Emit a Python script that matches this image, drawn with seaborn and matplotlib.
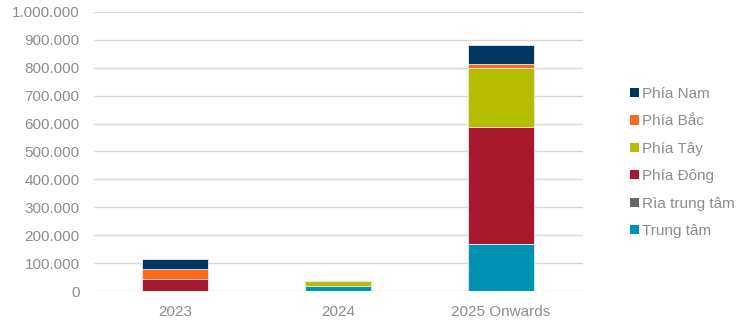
import matplotlib
matplotlib.use("Agg")
import matplotlib.pyplot as plt
from matplotlib.patches import Patch
from matplotlib.ticker import FuncFormatter
import seaborn as sns
import pandas as pd
import numpy as np

categories = ["2023", "2024", "2025 Onwards"]
# stack order bottom -> top
series_names = ["Trung tâm", "Rìa trung tâm", "Phía Đông", "Phía Tây", "Phía Bắc", "Phía Nam"]
trung_tam = [0, 19000, 169000]
ria_trung_tam = [0, 0, 0]
phia_dong = [42000, 0, 420000]
phia_tay = [0, 18000, 209000]
phia_bac = [38000, 0, 16000]
phia_nam = [36000, 0, 68000]
colors = ["#0092B3", "#666666", "#A6192E", "#B5BD00", "#FF6A1A", "#003660"]

values = [trung_tam, ria_trung_tam, phia_dong, phia_tay, phia_bac, phia_nam]

sns.set_theme(style="white")
plt.rcParams['font.family'] = ['Liberation Sans', 'DejaVu Sans']

fig = plt.figure(figsize=(7.5, 3.23), dpi=100)
ax = fig.add_axes([0.1247, 0.099, 0.652, 0.864])

cum = np.cumsum(np.array(values, dtype=float), axis=0)
# draw tallest (top of stack) first so lower segments overlay
for i in range(len(series_names) - 1, -1, -1):
    df = pd.DataFrame({"cat": categories, "val": cum[i]})
    sns.barplot(data=df, x="cat", y="val", color=colors[i], width=0.4,
                saturation=1, edgecolor="#e6eef3", linewidth=0.6, ax=ax, zorder=3)

ax.set_ylim(0, 1000000)
ax.set_xlim(-0.5, 2.5)
ax.set_yticks(np.arange(0, 1000001, 100000))
ax.yaxis.set_major_formatter(FuncFormatter(lambda v, p: f"{int(v):,}".replace(",", ".")))
ax.grid(axis="y", color="#d9d9d9", linewidth=1, zorder=0)
ax.set_axisbelow(True)
for s in ax.spines.values():
    s.set_visible(False)
ax.set_xlabel("")
ax.set_ylabel("")
ax.tick_params(axis="both", length=0, labelsize=11, colors="#8c8c8c")
ax.tick_params(axis="y", pad=10)
ax.tick_params(axis="x", pad=10)

handles = [Patch(facecolor=colors[i], edgecolor="none", label=series_names[i])
           for i in range(len(series_names) - 1, -1, -1)]
leg = fig.legend(handles=handles, loc="center left", bbox_to_anchor=(0.830, 0.497),
                 frameon=False, fontsize=11, handlelength=0.55, handleheight=0.55,
                 handletextpad=0.25, labelspacing=0.88, borderpad=0)
for t in leg.get_texts():
    t.set_color("#8c8c8c")

fig.savefig("out.png", dpi=100)
